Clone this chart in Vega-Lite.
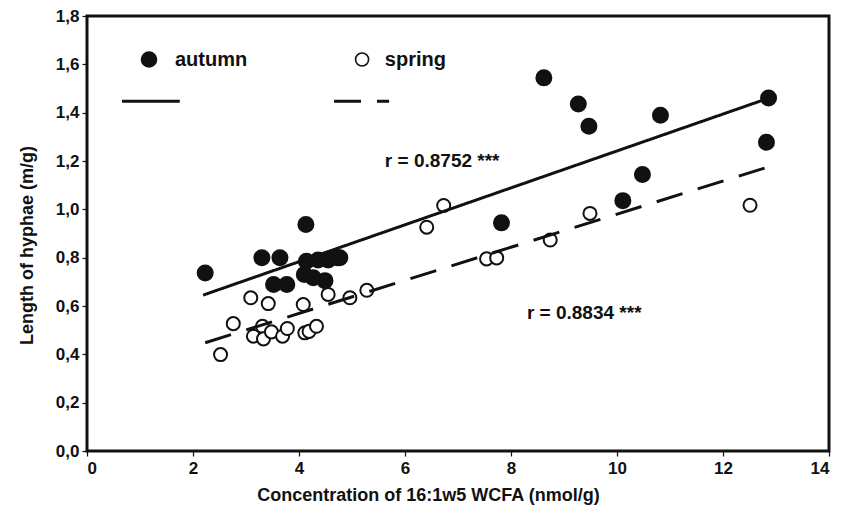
{
  "$schema": "https://vega.github.io/schema/vega-lite/v6.json",
  "width": 742,
  "height": 435,
  "autosize": {"type": "none"},
  "padding": {"left": 87, "top": 16, "right": 27, "bottom": 68},
  "background": "white",
  "config": {
    "font": "Liberation Sans",
    "view": {"stroke": "#111", "strokeWidth": 3},
    "axis": {"grid": false, "domain": false, "tickColor": "#111", "tickWidth": 1.2, "tickSize": 5, "labelColor": "#111", "titleColor": "#111", "labelFont": "Liberation Sans", "titleFont": "Liberation Sans", "labelFontWeight": "bold", "titleFontWeight": "bold", "labelFontSize": 17, "titleFontSize": 18}
  },
  "datasets": {
    "pts": [
      {"season": "autumn", "x": 2.23, "y": 0.737},
      {"season": "autumn", "x": 3.30, "y": 0.800},
      {"season": "autumn", "x": 3.64, "y": 0.800},
      {"season": "autumn", "x": 4.13, "y": 0.937},
      {"season": "autumn", "x": 4.14, "y": 0.785},
      {"season": "autumn", "x": 3.52, "y": 0.689},
      {"season": "autumn", "x": 3.77, "y": 0.689},
      {"season": "autumn", "x": 4.10, "y": 0.730},
      {"season": "autumn", "x": 4.27, "y": 0.717},
      {"season": "autumn", "x": 4.49, "y": 0.705},
      {"season": "autumn", "x": 4.36, "y": 0.790},
      {"season": "autumn", "x": 4.55, "y": 0.790},
      {"season": "autumn", "x": 4.72, "y": 0.800},
      {"season": "autumn", "x": 4.77, "y": 0.800},
      {"season": "autumn", "x": 7.82, "y": 0.944},
      {"season": "autumn", "x": 8.62, "y": 1.544},
      {"season": "autumn", "x": 9.27, "y": 1.436},
      {"season": "autumn", "x": 9.47, "y": 1.344},
      {"season": "autumn", "x": 10.82, "y": 1.389},
      {"season": "autumn", "x": 12.86, "y": 1.461},
      {"season": "autumn", "x": 12.82, "y": 1.278},
      {"season": "autumn", "x": 10.48, "y": 1.144},
      {"season": "autumn", "x": 10.11, "y": 1.036},
      {"season": "spring", "x": 2.52, "y": 0.399},
      {"season": "spring", "x": 2.76, "y": 0.527},
      {"season": "spring", "x": 3.09, "y": 0.634},
      {"season": "spring", "x": 3.42, "y": 0.610},
      {"season": "spring", "x": 3.14, "y": 0.475},
      {"season": "spring", "x": 3.31, "y": 0.516},
      {"season": "spring", "x": 3.33, "y": 0.464},
      {"season": "spring", "x": 3.48, "y": 0.493},
      {"season": "spring", "x": 3.69, "y": 0.475},
      {"season": "spring", "x": 3.78, "y": 0.507},
      {"season": "spring", "x": 4.08, "y": 0.606},
      {"season": "spring", "x": 4.11, "y": 0.489},
      {"season": "spring", "x": 4.19, "y": 0.495},
      {"season": "spring", "x": 4.33, "y": 0.516},
      {"season": "spring", "x": 4.55, "y": 0.648},
      {"season": "spring", "x": 4.96, "y": 0.634},
      {"season": "spring", "x": 5.28, "y": 0.665},
      {"season": "spring", "x": 6.41, "y": 0.926},
      {"season": "spring", "x": 6.73, "y": 1.016},
      {"season": "spring", "x": 7.54, "y": 0.795},
      {"season": "spring", "x": 7.73, "y": 0.799},
      {"season": "spring", "x": 8.74, "y": 0.873},
      {"season": "spring", "x": 9.49, "y": 0.983},
      {"season": "spring", "x": 12.51, "y": 1.017}
    ],
    "legpts": [
      {"season": "autumn", "x": 1.17, "y": 1.62, "label": "autumn", "lx": 1.66},
      {"season": "spring", "x": 5.19, "y": 1.62, "label": "spring", "lx": 5.62}
    ],
    "lines": [
      {"season": "autumn", "grp": "fit_autumn", "x": 2.19, "y": 0.645},
      {"season": "autumn", "grp": "fit_autumn", "x": 12.86, "y": 1.46},
      {"season": "spring", "grp": "fit_spring", "x": 2.23, "y": 0.448},
      {"season": "spring", "grp": "fit_spring", "x": 12.86, "y": 1.176},
      {"season": "autumn", "grp": "leg_autumn", "x": 0.66, "y": 1.447},
      {"season": "autumn", "grp": "leg_autumn", "x": 1.75, "y": 1.447},
      {"season": "spring", "grp": "leg_spring", "x": 4.66, "y": 1.447},
      {"season": "spring", "grp": "leg_spring", "x": 5.70, "y": 1.447}
    ],
    "notes": [
      {"text": "r = 0.8752 ***", "x": 5.62, "y": 1.198},
      {"text": "r = 0.8834 ***", "x": 8.30, "y": 0.569}
    ]
  },
  "layer": [
    {
      "data": {"name": "pts"},
      "mark": {"type": "point", "shape": "circle", "filled": true, "stroke": "#111", "strokeWidth": 2, "opacity": 1},
      "encoding": {
        "x": {"field": "x", "type": "quantitative", "scale": {"domain": [0, 14], "nice": false}, "axis": {"values": [0, 2, 4, 6, 8, 10, 12, 14], "title": "Concentration of 16:1w5 WCFA (nmol/g)", "labelPadding": 4, "titlePadding": 10, "titleX": 341, "titleAlign": "center", "titleAnchor": null}},
        "y": {"field": "y", "type": "quantitative", "scale": {"domain": [0, 1.8], "nice": false}, "axis": {"values": [0, 0.2, 0.4, 0.6, 0.8, 1.0, 1.2, 1.4, 1.6, 1.8], "labelExpr": "replace(format(datum.value, '.1f'), '.', ',')", "title": "Length of hyphae (m/g)", "labelPadding": 3, "titlePadding": 19, "titleY": 229, "titleAlign": "center", "titleAnchor": null}},
        "fill": {"field": "season", "type": "nominal", "scale": {"domain": ["autumn", "spring"], "range": ["#111111", "#ffffff"]}, "legend": null},
        "size": {"field": "season", "type": "nominal", "scale": {"domain": ["autumn", "spring"], "range": [225, 170]}, "legend": null}
      }
    },
    {
      "data": {"name": "legpts"},
      "mark": {"type": "point", "shape": "circle", "filled": true, "stroke": "#111", "strokeWidth": 1.6, "opacity": 1},
      "encoding": {
        "x": {"field": "x", "type": "quantitative"},
        "y": {"field": "y", "type": "quantitative"},
        "fill": {"field": "season", "type": "nominal", "legend": null},
        "size": {"field": "season", "type": "nominal", "legend": null}
      }
    },
    {
      "data": {"name": "legpts"},
      "mark": {"type": "text", "align": "left", "baseline": "middle", "font": "Liberation Sans", "fontWeight": "bold", "fontSize": 20, "color": "#111"},
      "encoding": {
        "x": {"field": "lx", "type": "quantitative"},
        "y": {"field": "y", "type": "quantitative"},
        "text": {"field": "label"}
      }
    },
    {
      "data": {"name": "lines"},
      "mark": {"type": "line", "color": "#111", "strokeWidth": 3, "strokeCap": "butt"},
      "encoding": {
        "x": {"field": "x", "type": "quantitative"},
        "y": {"field": "y", "type": "quantitative"},
        "detail": {"field": "grp"},
        "strokeDash": {"field": "season", "type": "nominal", "scale": {"domain": ["autumn", "spring"], "range": [[1, 0], [27, 16]]}, "legend": null}
      }
    },
    {
      "data": {"name": "notes"},
      "mark": {"type": "text", "align": "left", "baseline": "middle", "font": "Liberation Sans", "fontWeight": "bold", "fontSize": 19, "color": "#111"},
      "encoding": {
        "x": {"field": "x", "type": "quantitative"},
        "y": {"field": "y", "type": "quantitative"},
        "text": {"field": "text"}
      }
    }
  ]
}
